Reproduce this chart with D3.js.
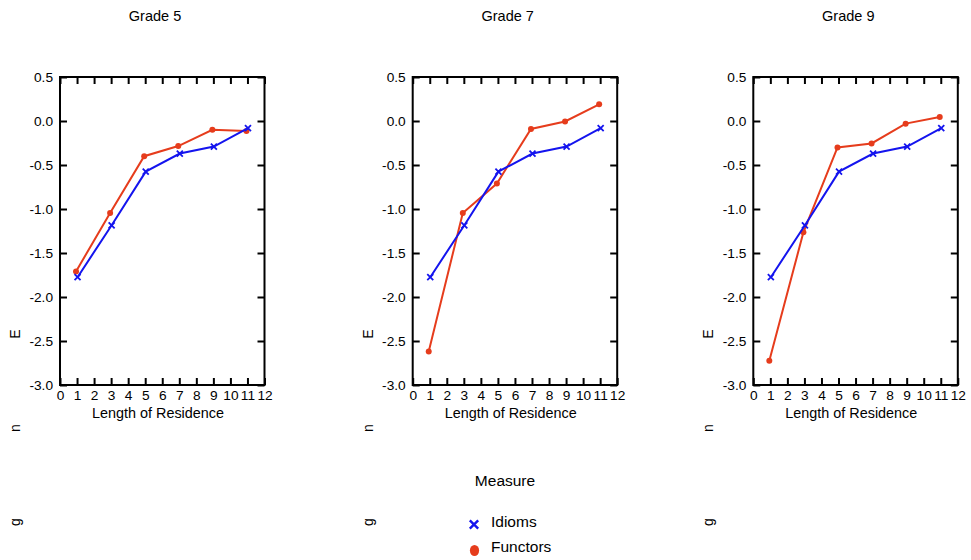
<!DOCTYPE html>
<html><head><meta charset="utf-8">
<script src="https://cdn.jsdelivr.net/npm/d3@7"></script>
<style>
body{margin:0;background:#fff}
text{font-family:"Liberation Sans",Arial,Helvetica,sans-serif;fill:#000}
</style>
</head><body>
<svg id="chart" width="971" height="560"></svg>
<script>
// ---- data ----
const grades = ["Grade 5", "Grade 7", "Grade 9"];
const residence = [1, 3, 5, 7, 9, 11];
const idioms = [-1.775, -1.185, -0.575, -0.37, -0.29, -0.08];
const functorsGrade5 = [-1.71, -1.045, -0.40, -0.285, -0.10, -0.115];
const functorsGrade7 = [-2.62, -1.045, -0.71, -0.09, -0.005, 0.19];
const functorsGrade9 = [-2.725, -1.265, -0.30, -0.255, -0.03, 0.045];
const functorsByGrade = [functorsGrade5, functorsGrade7, functorsGrade9];
const seriesNames = ["Idioms", "Functors"];
const yTicks = [0.5, 0.0, -0.5, -1.0, -1.5, -2.0, -2.5, -3.0];
const xTicks = [0,1,2,3,4,5,6,7,8,9,10,11,12];
const xLabel = "Length of Residence";
const legendTitle = "Measure";
const stray = ["E", "n", "g"];

// ---- layout ----
const svg = d3.select("#chart");
const panelLefts = [60, 412.7, 753.3];
const pw = 204.5, plotTop = 77, plotBottom = 385;
const blue = "#1414ee", red = "#e63c1c";
const idiomDodge = 0.03, functorDodge = -0.06;

const y = d3.scaleLinear().domain([-3, 0.5]).range([plotBottom, plotTop]);

function xMark(g, cx, cy, s, color, sw) {
  g.append("path")
    .attr("d", `M${cx-s},${cy-s}L${cx+s},${cy+s}M${cx-s},${cy+s}L${cx+s},${cy-s}`)
    .attr("stroke", color).attr("stroke-width", sw).attr("fill", "none");
}

grades.forEach((grade, i) => {
  const left = panelLefts[i];
  const x = d3.scaleLinear().domain([0, 12]).range([left, left + pw]);
  const g = svg.append("g");

  // title
  g.append("text").attr("x", left + 95).attr("y", 21)
    .attr("text-anchor", "middle").style("font-size", "14.5px").text(grade);

  // axes
  const fmt = d => d.toFixed(1);
  const ax = [
    g.append("g").attr("transform", `translate(${left},0)`)
      .call(d3.axisLeft(y).tickValues(yTicks).tickFormat(fmt).tickSize(-7).tickSizeOuter(0).tickPadding(7)),
    g.append("g").attr("transform", `translate(${left+pw},0)`)
      .call(d3.axisRight(y).tickValues(yTicks).tickFormat("").tickSize(-7).tickSizeOuter(0)),
    g.append("g").attr("transform", `translate(0,${plotBottom})`)
      .call(d3.axisBottom(x).tickValues(xTicks).tickFormat(d3.format("d")).tickSize(-7).tickSizeOuter(0).tickPadding(5.5)),
    g.append("g").attr("transform", `translate(0,${plotTop})`)
      .call(d3.axisTop(x).tickValues(xTicks).tickFormat("").tickSize(-7).tickSizeOuter(0))
  ];
  ax.forEach(a => {
    a.select(".domain").remove();
    a.selectAll(".tick line").attr("stroke", "#000").attr("stroke-width", 2);
    a.selectAll(".tick text").style("font-size", "13.7px").attr("fill", "#000")
      .style("font-family", '"Liberation Sans",Arial,sans-serif');
  });
  g.append("rect").attr("x", left).attr("y", plotTop).attr("width", pw).attr("height", plotBottom - plotTop)
    .attr("fill", "none").attr("stroke", "#000").attr("stroke-width", 2);

  // x label
  g.append("text").attr("x", left + 98).attr("y", 418)
    .attr("text-anchor", "middle").style("font-size", "14.4px").text(xLabel);

  // stray rotated letters
  [334, 428, 522].forEach((yy, k) => {
    g.append("text").attr("transform", `translate(${left - 45},${yy}) rotate(-90)`)
      .attr("text-anchor", "middle").attr("dy", "0.35em").style("font-size", "14px").text(stray[k]);
  });

  // functors
  const fData = residence.map((r, k) => [r + functorDodge, functorsByGrade[i][k]]);
  const line = d3.line().x(d => x(d[0])).y(d => y(d[1]));
  g.append("path").datum(fData).attr("d", line).attr("fill", "none")
    .attr("stroke", red).attr("stroke-width", 2);
  g.selectAll(".fdot").data(fData).enter().append("circle")
    .attr("cx", d => x(d[0])).attr("cy", d => y(d[1])).attr("r", 3).attr("fill", red);

  // idioms
  const iData = residence.map((r, k) => [r + idiomDodge, idioms[k]]);
  g.append("path").datum(iData).attr("d", line).attr("fill", "none")
    .attr("stroke", blue).attr("stroke-width", 2);
  iData.forEach(d => xMark(g, x(d[0]), y(d[1]), 3, blue, 1.8));
});

// legend
const lg = svg.append("g");
lg.append("text").attr("x", 505).attr("y", 486).attr("text-anchor", "middle")
  .style("font-size", "15.5px").text(legendTitle);
xMark(lg, 474, 524.5, 4.2, blue, 2.4);
lg.append("text").attr("x", 491).attr("y", 527).style("font-size", "15.5px").text(seriesNames[0]);
lg.append("ellipse").attr("cx", 474.5).attr("cy", 550.5).attr("rx", 4.6).attr("ry", 5.6).attr("fill", red);
lg.append("text").attr("x", 491).attr("y", 552).style("font-size", "15.5px").text(seriesNames[1]);
</script>
</body></html>
